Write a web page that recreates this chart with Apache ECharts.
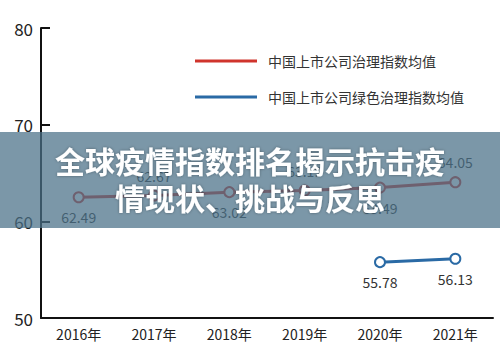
<!DOCTYPE html>
<html><head><meta charset="utf-8">
<script src="https://cdn.jsdelivr.net/npm/echarts@6/dist/echarts.min.js"></script>
<style>html,body{margin:0;padding:0;background:#fff}#c{width:500px;height:360px}</style>
</head><body><div id="c"></div>
<script>
const categories = ['2016年','2017年','2018年','2019年','2020年','2021年'];
const governance = [62.49, 62.67, 63.02, 63.19, 63.49, 64.05];
const greenGovernance = [null, null, null, null, 55.78, 56.13];
const governanceLabelPos = ['bottom','top','bottom','top','bottom','top'];
const seriesNames = ['中国上市公司治理指数均值','中国上市公司绿色治理指数均值'];
const yTicks = {min: 50, max: 80, interval: 10};
const titleLines = ['全球疫情指数排名揭示抗击疫','情现状、挑战与反思'];

const FONT = '"Noto Sans CJK SC", "Noto Sans", sans-serif';
const RED = '#d0342c', BLUE = '#2a6aa5';
const chart = echarts.init(document.getElementById('c'), null, {renderer: 'svg'});
chart.setOption({
  animation: false,
  textStyle: {fontFamily: FONT},
  grid: {left: 41, right: 7, top: 28, bottom: 42},
  legend: {
    orient: 'vertical', left: 190, top: 49, itemGap: 22,
    itemWidth: 62, itemHeight: 3, icon: 'rect',
    textStyle: {fontSize: 14, color: '#333', fontFamily: FONT, padding: [0,0,0,6]},
    data: [
      {name: seriesNames[0], itemStyle: {color: RED, borderWidth: 0}},
      {name: seriesNames[1], itemStyle: {color: BLUE, borderWidth: 0}}
    ]
  },
  xAxis: {
    type: 'category', data: categories, boundaryGap: true,
    axisLine: {lineStyle: {color: '#111', width: 2}},
    axisTick: {inside: true, length: 7, lineStyle: {color: '#111', width: 2}},
    axisLabel: {fontSize: 14, color: '#222', margin: 9}
  },
  yAxis: {
    type: 'value', min: yTicks.min, max: yTicks.max, interval: yTicks.interval,
    splitLine: {show: false},
    axisLine: {show: true, lineStyle: {color: '#111', width: 2}},
    axisTick: {show: true, inside: true, length: 9, lineStyle: {color: '#111', width: 2}},
    axisLabel: {fontSize: 17, color: '#222', margin: 8}
  },
  series: [
    {
      name: seriesNames[0], type: 'line',
      data: governance.map((v, i) => ({value: v, label: {position: governanceLabelPos[i]}})),
      symbol: 'emptyCircle', symbolSize: 10,
      lineStyle: {color: RED, width: 3},
      itemStyle: {color: RED, borderWidth: 2},
      label: {show: true, fontSize: 14, color: '#333', distance: 7}
    },
    {
      name: seriesNames[1], type: 'line',
      data: greenGovernance,
      symbol: 'emptyCircle', symbolSize: 10,
      lineStyle: {color: BLUE, width: 3},
      itemStyle: {color: BLUE, borderWidth: 2},
      label: {show: true, position: 'bottom', fontSize: 14, color: '#333', distance: 7}
    }
  ],
  graphic: [
    {type: 'rect', left: 0, top: 132, z: 100,
     shape: {width: 500, height: 96},
     style: {fill: 'rgba(74,112,136,0.73)'}},
    {type: 'text', z: 101, left: 'center', top: 145,
     style: {text: titleLines[0], fill: '#fff', font: 'bold 30px ' + FONT,
             textShadowColor: 'rgba(0,0,0,0.35)', textShadowBlur: 3}},
    {type: 'text', z: 101, left: 'center', top: 182,
     style: {text: titleLines[1], fill: '#fff', font: 'bold 30px ' + FONT,
             textShadowColor: 'rgba(0,0,0,0.35)', textShadowBlur: 3}}
  ]
});
</script></body></html>
